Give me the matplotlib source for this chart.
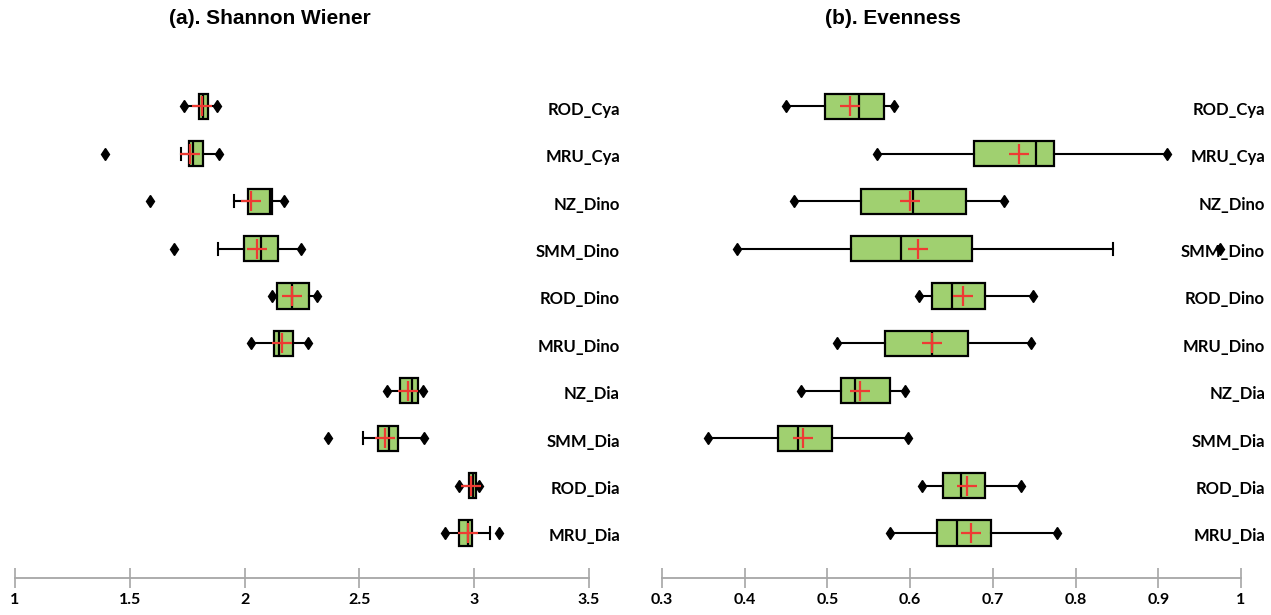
import matplotlib
matplotlib.use("Agg")
from matplotlib import pyplot as plt

# categories, top to bottom
categorias = ["ROD_Cya", "MRU_Cya", "NZ_Dino", "SMM_Dino", "ROD_Dino",
              "MRU_Dino", "NZ_Dia", "SMM_Dia", "ROD_Dia", "MRU_Dia"]

# (a) Shannon Wiener
sh_min = [1.735, 1.390, 1.587, 1.692, 2.118, 2.026, 2.622, 2.363, 2.935, 2.874]
sh_wlo = [1.735, 1.721, 1.953, 1.884, 2.118, 2.026, 2.622, 2.516, 2.935, 2.874]
sh_q1 = [1.801, 1.757, 2.016, 1.997, 2.142, 2.128, 2.676, 2.583, 2.976, 2.932]
sh_med = [1.819, 1.776, 2.109, 2.070, 2.208, 2.150, 2.729, 2.627, 2.993, 2.971]
sh_q3 = [1.841, 1.818, 2.120, 2.145, 2.281, 2.211, 2.755, 2.666, 3.008, 2.990]
sh_whi = [1.878, 1.888, 2.171, 2.244, 2.317, 2.277, 2.775, 2.782, 3.022, 3.069]
sh_max = [1.878, 1.888, 2.171, 2.244, 2.317, 2.277, 2.775, 2.782, 3.022, 3.110]
sh_media = [1.816, 1.764, 2.026, 2.052, 2.208, 2.161, 2.711, 2.612, 2.986, 2.971]

# (b) Evenness
ev_min = [0.450, 0.560, 0.460, 0.391, 0.611, 0.512, 0.468, 0.356, 0.614, 0.576]
ev_wlo = [0.450, 0.560, 0.460, 0.391, 0.611, 0.512, 0.468, 0.356, 0.614, 0.576]
ev_q1 = [0.497, 0.677, 0.541, 0.528, 0.626, 0.569, 0.517, 0.440, 0.640, 0.632]
ev_med = [0.538, 0.752, 0.604, 0.589, 0.650, 0.626, 0.533, 0.465, 0.662, 0.657]
ev_q3 = [0.568, 0.774, 0.667, 0.675, 0.690, 0.670, 0.576, 0.505, 0.690, 0.698]
ev_whi = [0.580, 0.910, 0.713, 0.845, 0.749, 0.746, 0.594, 0.597, 0.734, 0.777]
ev_max = [0.580, 0.910, 0.713, 0.975, 0.749, 0.746, 0.594, 0.597, 0.734, 0.777]
ev_media = [0.527, 0.732, 0.600, 0.609, 0.664, 0.626, 0.539, 0.470, 0.669, 0.673]

sh_ticks = [1, 1.5, 2, 2.5, 3, 3.5]
sh_ticklabels = ["1", "1.5", "2", "2.5", "3", "3.5"]
ev_ticks = [0.3, 0.4, 0.5, 0.6, 0.7, 0.8, 0.9, 1.0]
ev_ticklabels = ["0.3", "0.4", "0.5", "0.6", "0.7", "0.8", "0.9", "1"]

verde = "#a0d070"
rojo = "#ee3b33"
gris = "#a6a6a6"


def grafico_caja(ax, mins, wlo, q1, med, q3, whi, maxs, medias, ticks, ticklabels, xlim, x_etiqueta):
    n = len(categorias)
    posiciones = [n - i for i in range(n)]
    stats = []
    for i in range(n):
        stats.append({"med": med[i], "q1": q1[i], "q3": q3[i],
                      "whislo": wlo[i], "whishi": whi[i],
                      "fliers": [mins[i], maxs[i]], "mean": medias[i]})
    res = ax.bxp(stats, positions=posiciones, orientation="horizontal", widths=0.53,
                 capwidths=0.25, patch_artist=True, showmeans=True, showfliers=True,
                 boxprops=dict(facecolor=verde, edgecolor="black", linewidth=1.6),
                 medianprops=dict(color="black", linewidth=1.6),
                 whiskerprops=dict(color="black", linewidth=1.5),
                 capprops=dict(color="black", linewidth=1.5),
                 meanprops=dict(marker="+", markeredgecolor=rojo, markersize=15,
                                markeredgewidth=1.6),
                 flierprops=dict(marker="d", markerfacecolor="black",
                                 markeredgecolor="black", markersize=6))
    # caps only where the whisker stops before the min/max point
    for i in range(n):
        if wlo[i] == mins[i]:
            res["caps"][2 * i].set_visible(False)
        if whi[i] == maxs[i]:
            res["caps"][2 * i + 1].set_visible(False)

    for i in range(n):
        ax.text(x_etiqueta, posiciones[i] - 0.07, categorias[i], transform=ax.get_yaxis_transform(),
                ha="right", va="center", fontsize=12, fontweight="bold", family="Lato", clip_on=False)

    ax.set_xlim(xlim)
    ax.set_ylim(0.051, 10.98)
    ax.set_yticks([])
    for s in ["top", "left", "right"]:
        ax.spines[s].set_visible(False)
    ax.spines["bottom"].set_color(gris)
    ax.spines["bottom"].set_linewidth(1.3)
    ax.set_xticks(ticks)
    ax.set_xticklabels(ticklabels, fontweight="bold", family="Lato", fontsize=11.5)
    ax.tick_params(axis="x", direction="inout", length=14, width=1.2, color=gris, pad=4)


fig = plt.figure(figsize=(12.71, 6.15), dpi=100)
ax1 = fig.add_axes([15 / 1271, 0.0602, 574 / 1271, 0.8422])
ax2 = fig.add_axes([662 / 1271, 0.0602, 579 / 1271, 0.8422])

grafico_caja(ax1, sh_min, sh_wlo, sh_q1, sh_med, sh_q3, sh_whi, sh_max, sh_media,
             sh_ticks, sh_ticklabels, (1, 3.5), 1.054)
grafico_caja(ax2, ev_min, ev_wlo, ev_q1, ev_med, ev_q3, ev_whi, ev_max, ev_media,
             ev_ticks, ev_ticklabels, (0.3, 1.0), 1.0415)

fig.text(270 / 1271, 1 - 19 / 615, "(a). Shannon Wiener", ha="center", va="center",
         fontsize=15, fontweight="bold", family="Liberation Sans")
fig.text(893 / 1271, 1 - 19 / 615, "(b). Evenness", ha="center", va="center",
         fontsize=15, fontweight="bold", family="Liberation Sans")

fig.savefig("out.png", dpi=100)
